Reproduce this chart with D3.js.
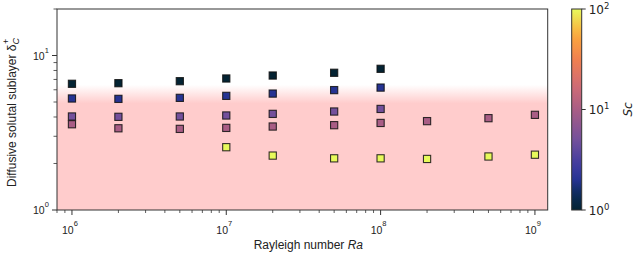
<!DOCTYPE html>
<html>
<head>
<meta charset="utf-8">
<script src="https://cdn.jsdelivr.net/npm/d3@7"></script>
<style>
  body { margin: 0; background: #fff; }
  svg { display: block; }
</style>
</head>
<body>
<div id="chart"></div>
<script>
// Rayleigh numbers and Schmidt numbers of the runs
var ra = [1e6, 2e6, 5e6, 1e7, 2e7, 5e7, 1e8, 2e8, 5e8, 1e9];
var sc = [1, 2, 5, 10, 100];

// delta_c^+ for each Sc (null = no run)
var deltaSc1   = [6.56, 6.62, 6.82, 7.10, 7.42, 7.73, 8.20, null, null, null];
var deltaSc2   = [5.27, 5.24, 5.32, 5.48, 5.67, 5.97, 6.20, null, null, null];
var deltaSc5   = [4.03, 4.01, 4.03, 4.09, 4.19, 4.34, 4.51, null, null, null];
var deltaSc10  = [3.59, 3.38, 3.35, 3.40, 3.47, 3.54, 3.66, 3.76, 3.93, 4.13];
var deltaSc100 = [null, null, null, 2.55, 2.25, 2.16, 2.16, 2.14, 2.22, 2.28];
var series = [deltaSc1, deltaSc2, deltaSc5, deltaSc10, deltaSc100];

var xTicks = [1e6, 1e7, 1e8, 1e9];
var yTicks = [1, 10];
var cTicks = [1, 10, 100];

var W = 640, H = 260;
var margin = {top: 9, right: 92.3, bottom: 50, left: 57};
var width = W - margin.left - margin.right;
var height = H - margin.top - margin.bottom;

// approximate cmocean "thermal"
var thermalStops = ["#042333", "#0c2c5a", "#2a349a", "#4a3f9e", "#74509b",
  "#a95d85", "#d16b75", "#f0804f", "#fba83c", "#e8fa5b"];
var thermalPos = [0, 0.08, 0.16, 0.25, 0.35, 0.5, 0.62, 0.75, 0.87, 1];
var thermal = d3.scaleLinear().domain(thermalPos).range(thermalStops)
  .interpolate(d3.interpolateRgb);
var cNorm = d3.scaleLog().domain([1, 100]).range([0, 1]);
function color(s) { return thermal(cNorm(s)); }

var x = d3.scaleLog().domain([8e5, 1.21e9]).range([0, width]);
var y = d3.scaleLog().domain([1, 20]).range([height, 0]);

var svg = d3.select('#chart').append('svg')
  .attr('width', W).attr('height', H);

var defs = svg.append('defs');
var grad = defs.append('linearGradient')
  .attr('id', 'fade')
  .attr('gradientUnits', 'userSpaceOnUse')
  .attr('x1', 0).attr('x2', 0)
  .attr('y1', y(4.9)).attr('y2', y(6.45));
grad.append('stop').attr('offset', 0).attr('stop-color', '#ffcccc');
grad.append('stop').attr('offset', 1).attr('stop-color', '#ffffff');

var g = svg.append('g')
  .attr('transform', 'translate(' + margin.left + ',' + margin.top + ')');

g.append('rect')
  .attr('width', width).attr('height', height)
  .attr('fill', 'url(#fade)');

// markers
series.forEach(function(vals, k) {
  var pts = ra.map(function(r, i) { return {ra: r, d: vals[i]}; })
    .filter(function(p) { return p.d != null; });
  g.selectAll('.m' + k).data(pts).enter()
    .append('rect')
    .attr('class', 'm' + k)
    .attr('x', function(p) { return x(p.ra) - 3.6; })
    .attr('y', function(p) { return y(p.d) - 3.6; })
    .attr('width', 7.2).attr('height', 7.2)
    .attr('fill', color(sc[k]))
    .attr('stroke', '#111')
    .attr('stroke-width', 1.1)
    .attr('stroke-opacity', 0.85);
});

// frame
g.append('rect')
  .attr('width', width).attr('height', height)
  .attr('fill', 'none').attr('stroke', '#333').attr('stroke-width', 1);

function minors(scale) {
  var d = scale.domain(), out = [];
  var lo = Math.floor(Math.log10(d[0])), hi = Math.ceil(Math.log10(d[1]));
  for (var e = lo; e <= hi; e++) {
    for (var m = 2; m <= 9; m++) {
      var v = m * Math.pow(10, e);
      if (v >= d[0] && v <= d[1]) out.push(v);
    }
  }
  return out;
}

var axisFont = '"Liberation Sans", Arial, sans-serif';

// x axis
var xAxis = g.append('g').attr('transform', 'translate(0,' + height + ')');
xAxis.selectAll('.mj').data(xTicks).enter().append('line')
  .attr('x1', x).attr('x2', x).attr('y1', 0).attr('y2', 5)
  .attr('stroke', '#333').attr('stroke-width', 1);
xAxis.selectAll('.mn').data(minors(x)).enter().append('line')
  .attr('x1', x).attr('x2', x).attr('y1', 0).attr('y2', 3)
  .attr('stroke', '#333').attr('stroke-width', 0.8);
var xl = xAxis.selectAll('.lbl').data(xTicks).enter().append('text')
  .attr('x', function(d) { return x(d) - 2; })
  .attr('y', 24)
  .attr('text-anchor', 'middle')
  .attr('font-family', axisFont).attr('font-size', 10.5).attr('fill', '#222');
xl.append('tspan').text('10');
xl.append('tspan').attr('dy', -8).attr('font-size', 7.5)
  .text(function(d) { return Math.round(Math.log10(d)); });

// y axis
var yAxis = g.append('g');
yAxis.selectAll('.mj').data(yTicks).enter().append('line')
  .attr('y1', y).attr('y2', y).attr('x1', 0).attr('x2', -5)
  .attr('stroke', '#333').attr('stroke-width', 1);
yAxis.selectAll('.mn').data(minors(y)).enter().append('line')
  .attr('y1', y).attr('y2', y).attr('x1', 0).attr('x2', -3.5)
  .attr('stroke', '#333').attr('stroke-width', 0.8);
var yl = yAxis.selectAll('.lbl').data(yTicks).enter().append('text')
  .attr('x', -24).attr('y', function(d) { return y(d) + 4; })
  .attr('font-family', axisFont).attr('font-size', 10.5).attr('fill', '#222');
yl.append('tspan').text('10');
yl.append('tspan').attr('dy', -7).attr('font-size', 7.5)
  .text(function(d) { return Math.round(Math.log10(d)); });

// axis titles
var xt = svg.append('text')
  .attr('x', margin.left + width / 2 + 6).attr('y', 249)
  .attr('text-anchor', 'middle')
  .attr('font-family', axisFont).attr('font-size', 12).attr('fill', '#222');
xt.append('tspan').text('Rayleigh number ');
xt.append('tspan').attr('font-style', 'italic').text('Ra');

var yt = svg.append('text')
  .attr('transform', 'translate(16,' + (margin.top + height / 2 + 3) + ') rotate(-90)')
  .attr('text-anchor', 'middle')
  .attr('font-family', axisFont).attr('font-size', 12).attr('fill', '#222');
yt.append('tspan').text('Diffusive solutal sublayer \u03b4');
yt.append('tspan').attr('font-style', 'italic').attr('font-size', 9).attr('dy', 3).text('C');
yt.append('tspan').attr('font-size', 9).attr('dx', -6).attr('dy', -10).text('+');

// colorbar
var cbX = 571.7, cbW = 10;
var cy = d3.scaleLog().domain([1, 100]).range([margin.top + height, margin.top]);
var cgrad = defs.append('linearGradient')
  .attr('id', 'cbar').attr('x1', 0).attr('x2', 0).attr('y1', 1).attr('y2', 0);
d3.range(0, 1.0001, 0.05).forEach(function(t) {
  cgrad.append('stop').attr('offset', t).attr('stop-color', thermal(t));
});
svg.append('rect')
  .attr('x', cbX).attr('y', margin.top).attr('width', cbW).attr('height', height)
  .attr('fill', 'url(#cbar)')
  .attr('stroke', '#333').attr('stroke-width', 1);
var cb = svg.append('g');
cb.selectAll('line').data(cTicks).enter().append('line')
  .attr('x1', cbX + cbW).attr('x2', cbX + cbW + 4)
  .attr('y1', cy).attr('y2', cy)
  .attr('stroke', '#333').attr('stroke-width', 1);
var cl = cb.selectAll('text').data(cTicks).enter().append('text')
  .attr('x', cbX + cbW + 7).attr('y', function(d) { return cy(d) + 4.5; })
  .attr('font-family', '"DejaVu Sans", sans-serif').attr('font-size', 12).attr('fill', '#222');
cl.append('tspan').text('10');
cl.append('tspan').attr('dy', -5).attr('font-size', 8.5)
  .text(function(d) { return Math.round(Math.log10(d)); });

svg.append('text')
  .attr('transform', 'translate(632,' + cy(10) + ') rotate(-90)')
  .attr('text-anchor', 'middle')
  .attr('font-family', '"DejaVu Sans", sans-serif').attr('font-size', 12)
  .attr('font-style', 'italic').attr('fill', '#222')
  .text('Sc');
</script>
</body>
</html>
